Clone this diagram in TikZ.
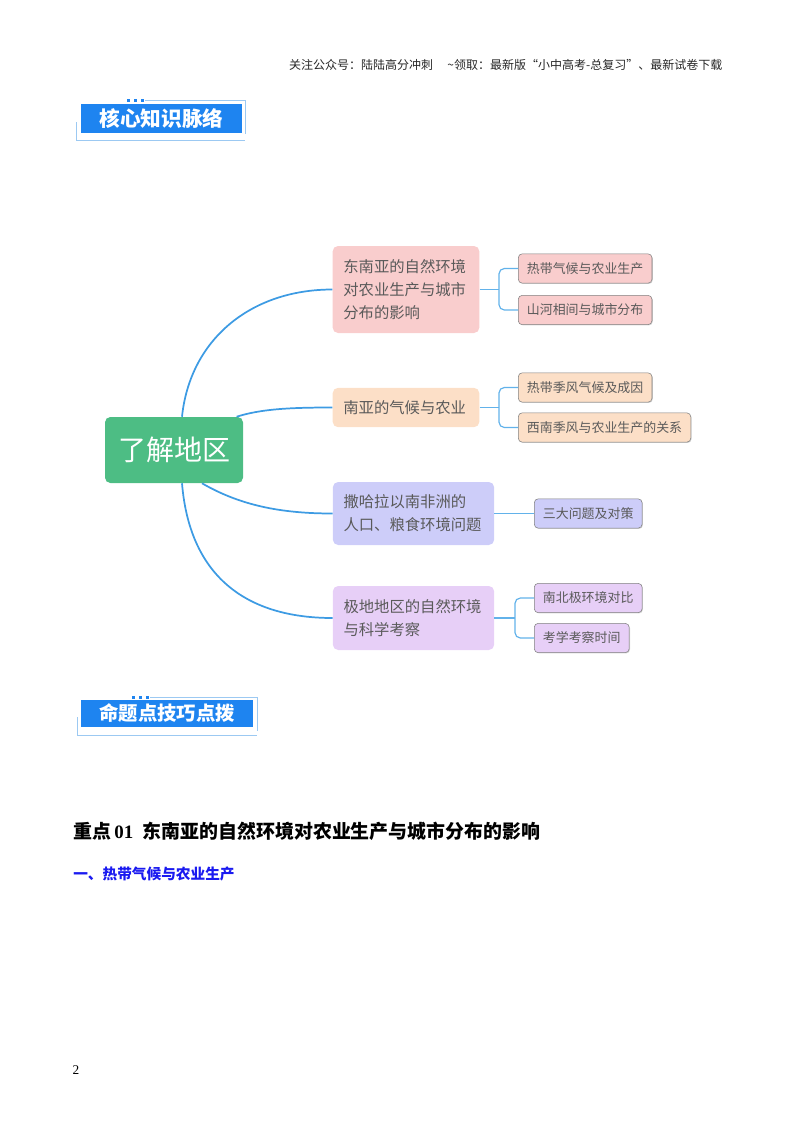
\documentclass[tikz,border=0pt]{standalone}
\usepackage{fontspec}
\setmainfont{Liberation Serif}
\newfontfamily\cjk{Noto Sans CJK SC}
\usetikzlibrary{positioning, shadows}

\definecolor{rootgreen}{HTML}{4DBD84}
\definecolor{linkblue}{HTML}{3D9BE3}
\definecolor{brkblue}{HTML}{62B2EA}
\definecolor{pinkbg}{HTML}{F9CDCD}
\definecolor{peachbg}{HTML}{FCDFC7}
\definecolor{lavbg}{HTML}{CDCDF9}
\definecolor{purplebg}{HTML}{E7CFF7}
\definecolor{txtgray}{HTML}{5A5A5A}
\definecolor{badgeblue}{HTML}{1E84F0}
\definecolor{framebl}{HTML}{9CC9F2}
\definecolor{headblue}{HTML}{1A1AF0}

\begin{document}
\begin{tikzpicture}[x=0.75pt, y=-0.75pt,
      rootbox/.style={fill=rootgreen, rounded corners=4pt, text=white,
                      minimum width=103.5pt, minimum height=49.5pt,
                      font=\cjk\fontsize{21}{24}\selectfont},
      branch/.style={rounded corners=4pt, inner xsep=8pt, align=left,
                     text=txtgray, font=\cjk\fontsize{11.5}{17.2}\selectfont},
      sub/.style={draw=black!50, rounded corners=3pt, inner xsep=6.5pt,
                  minimum height=22pt, text=txtgray, anchor=west,
                  drop shadow={shadow xshift=0.6pt, shadow yshift=-0.6pt, opacity=0.35},
                  font=\cjk\fontsize{9.7}{11}\selectfont},
      trunk/.style={draw=linkblue, line width=1.3pt},
      brk/.style={draw=brkblue, line width=0.9pt, rounded corners=4pt},
      badge/.style={fill=badgeblue, text=white, minimum height=20.25pt,
                    font=\cjk\bfseries\fontsize{15.5}{17}\selectfont},
      frame/.style={draw=framebl, line width=0.7pt}]
    \useasboundingbox (0,0) rectangle (800,1132);

    % page header
    \node[anchor=east, font=\cjk\fontsize{9}{10}\selectfont, text=black!85] (hdr) at (727,65)
      {关注公众号：陆陆高分冲刺\hspace{1.2em}\textasciitilde 领取：最新版“小中高考-总复习”、最新试卷下载};

    % first badge
    \node[badge, minimum width=120.75pt] (kw) at (161.5,118.5) {核心知识脉络};
    \draw[frame] (145,100) -- (245,100) -- (245,134);
    \draw[frame] (76,122) -- (76,140) -- (245,140);
    \foreach \dx in {128,135,142}
      \fill[badgeblue] (\dx-1.5,98.5) rectangle (\dx+1.5,101.5);

    % mind map
    \node[rootbox] (root) at (174,450) {了解地区};

    \node[branch, fill=pinkbg, text width=94pt, minimum height=65.25pt] (sea) at (406,289.5)
      {东南亚的自然环境\\对农业生产与城市\\分布的影响};
    \node[branch, fill=peachbg, text width=94pt, minimum height=29.5pt] (sa) at (406,407.5)
      {南亚的气候与农业};
    \node[branch, fill=lavbg, text width=105pt, minimum height=47.25pt] (af) at (413.5,513.5)
      {撒哈拉以南非洲的\\人口、粮食环境问题};
    \node[branch, fill=purplebg, text width=105pt, minimum height=48pt] (po) at (413.5,618)
      {极地地区的自然环境\\与科学考察};

    \node[sub, fill=pinkbg] (sea1) at (518,268.5) {热带气候与农业生产};
    \node[sub, fill=pinkbg] (sea2) at (518,310) {山河相间与城市分布};
    \node[sub, fill=peachbg] (sa1) at (518,387.5) {热带季风气候及成因};
    \node[sub, fill=peachbg] (sa2) at (518,427.5) {西南季风与农业生产的关系};
    \node[sub, fill=lavbg] (af1) at (534,513.5) {三大问题及对策};
    \node[sub, fill=purplebg] (po1) at (534,598) {南北极环境对比};
    \node[sub, fill=purplebg] (po2) at (534,638) {考学考察时间};

    % trunk curves
    \draw[trunk] ([xshift=6pt]root.north) .. controls +(8,-77) and +(-82,0) .. (sea.west);
    \draw[trunk] ([xshift=-5pt]root.north east) .. controls +(25,-8) and +(-40,0) .. (sa.west);
    \draw[trunk] ([xshift=21pt]root.south) .. controls +(38,22) and +(-52,0) .. (af.west);
    \draw[trunk] ([xshift=6pt]root.south) .. controls +(8,97) and +(-82,0) .. (po.west);

    % brackets
    \coordinate (jsea) at (499,289.5);
    \coordinate (jsa) at (499,407.5);
    \coordinate (jpo) at (515,618);
    \draw[brk] (sea.east) -- (jsea);
    \draw[brk] (sea1.west) -| (jsea) |- (sea2.west);
    \draw[brk] (sa.east) -- (jsa);
    \draw[brk] (sa1.west) -| (jsa) |- (sa2.west);
    \draw[brk] (af.east) -- (af1.west);
    \draw[brk] (po.east) -- (jpo);
    \draw[brk] (po1.west) -| (jpo) |- (po2.west);

    % second badge
    \node[badge, minimum width=129pt, font=\cjk\bfseries\fontsize{14.5}{17}\selectfont] (tip) at (167,713.5) {命题点技巧点拨};
    \draw[frame] (150,697) -- (257,697) -- (257,731);
    \draw[frame] (77,717) -- (77,735) -- (257,735);
    \foreach \dx in {133,140,147}
      \fill[badgeblue] (\dx-1.5,695.5) rectangle (\dx+1.5,698.5);

    % body headings
    \node[anchor=west, inner sep=0pt, font=\fontsize{14.2}{16}\selectfont] (key) at (73,831)
      {{\cjk\bfseries 重点}\,\textbf{01}\ \ {\cjk\bfseries 东南亚的自然环境对农业生产与城市分布的影响}};
    \node[anchor=west, inner sep=0pt, text=headblue, font=\cjk\bfseries\fontsize{11}{13}\selectfont] (sec) at (73,874)
      {一、热带气候与农业生产};

    \node[font=\fontsize{10}{12}\selectfont] (pg) at (76,1070) {2};
  \end{tikzpicture}
\end{document}
